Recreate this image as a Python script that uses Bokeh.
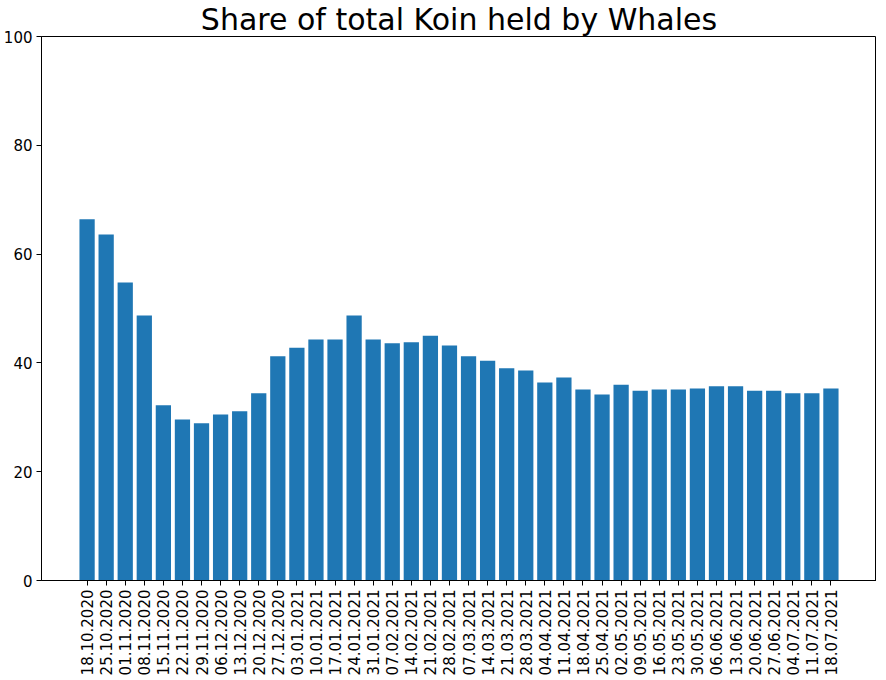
from bokeh.plotting import figure
from bokeh.models import Range1d, FixedTicker, Title
from bokeh.embed import file_html
from bokeh.resources import INLINE
import math

dates = ["18.10.2020", "25.10.2020", "01.11.2020", "08.11.2020", "15.11.2020",
         "22.11.2020", "29.11.2020", "06.12.2020", "13.12.2020", "20.12.2020",
         "27.12.2020", "03.01.2021", "10.01.2021", "17.01.2021", "24.01.2021",
         "31.01.2021", "07.02.2021", "14.02.2021", "21.02.2021", "28.02.2021",
         "07.03.2021", "14.03.2021", "21.03.2021", "28.03.2021", "04.04.2021",
         "11.04.2021", "18.04.2021", "25.04.2021", "02.05.2021", "09.05.2021",
         "16.05.2021", "23.05.2021", "30.05.2021", "06.06.2021", "13.06.2021",
         "20.06.2021", "27.06.2021", "04.07.2021", "11.07.2021", "18.07.2021"]
shares = [66.4, 63.6, 54.8, 48.7, 32.2, 29.6, 28.9, 30.5, 31.1, 34.4,
          41.2, 42.8, 44.3, 44.3, 48.7, 44.3, 43.6, 43.8, 45.0, 43.2,
          41.2, 40.4, 39.0, 38.6, 36.4, 37.3, 35.1, 34.2, 36.0, 34.9,
          35.1, 35.1, 35.3, 35.7, 35.7, 34.9, 34.9, 34.4, 34.4, 35.3]
y_ticks = [0, 20, 40, 60, 80, 100]
title_text = "Share of total Koin held by Whales"

idx = list(range(len(dates)))

p = figure(frame_width=835, frame_height=544, output_backend="svg", toolbar_location=None,
           x_range=Range1d(-2.39, len(dates) - 1 + 2.39), y_range=Range1d(0, 100),
           min_border_left=35, min_border_right=0, min_border_top=28, min_border_bottom=92)
p.title = Title(text=title_text, align="center", text_font="DejaVu Sans",
                text_font_size="30px", text_font_style="normal", text_color="black",
                standoff=-1)

p.vbar(x=idx, top=shares, width=0.8, bottom=0, fill_color="#1f77b4", line_color=None)

p.xgrid.visible = False
p.ygrid.visible = False
p.outline_line_color = "black"
p.outline_line_width = 1
p.outline_line_alpha = 1

p.xaxis.ticker = FixedTicker(ticks=idx)
p.xaxis.major_label_overrides = {i: d for i, d in zip(idx, dates)}
p.xaxis.major_label_orientation = math.pi / 2
p.yaxis.ticker = FixedTicker(ticks=y_ticks)

for ax in (p.xaxis[0], p.yaxis[0]):
    ax.axis_line_color = "black"
    ax.major_tick_in = 0
    ax.major_tick_out = 5
    ax.major_tick_line_color = "black"
    ax.minor_tick_line_color = None
    ax.major_label_text_font = "DejaVu Sans"
    ax.major_label_text_font_size = "15px"
    ax.major_label_text_color = "black"
    ax.major_label_standoff = 4

open("out.html", "w").write(file_html(p, INLINE))
